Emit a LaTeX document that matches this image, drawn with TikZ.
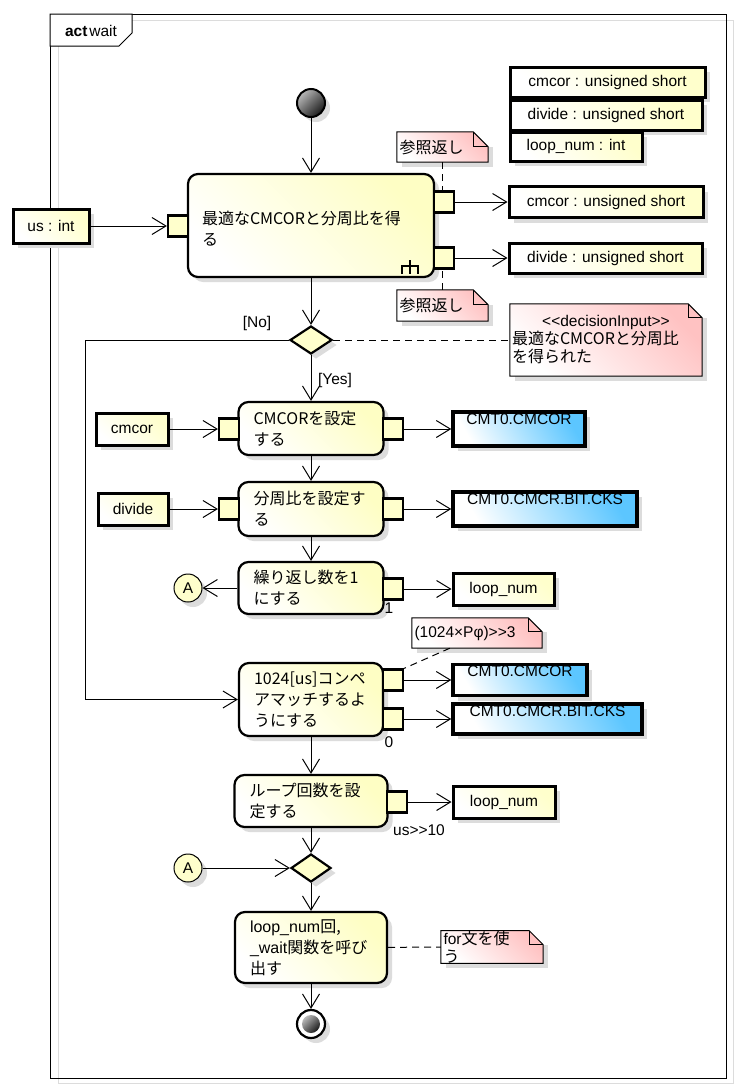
\documentclass[tikz,border=0pt]{standalone}
\usepackage{fontspec}
\newfontfamily\latfont{Liberation Sans}
\newfontfamily\jpfont{Noto Sans CJK JP}
\usetikzlibrary{arrows.meta,shapes.geometric,shadows,backgrounds}
\definecolor{actcream}{HTML}{FEFEC4}
\definecolor{objcream}{HTML}{FFFFCC}
\definecolor{regblue}{HTML}{5CC6FF}
\definecolor{notepink}{HTML}{FFC2C2}
\definecolor{shadowgray}{HTML}{DCDCDC}
\tikzset{
  flowarrow/.style={-{Straight Barb[length=14pt,width=17pt,line width=1pt]}, line width=1pt},
  dashlink/.style={line width=1pt, dash pattern=on 7pt off 5pt},
  castshadow/.style={drop shadow={shadow xshift=5pt, shadow yshift=-5pt, fill=shadowgray, opacity=1}},
  actbox/.style={draw, line width=2.2pt, rounded corners=10pt, top color=actcream, bottom color=white, shading angle=-45, castshadow, align=left, inner sep=0pt, font=\jpfont\fontsize{16}{21}\selectfont},
  pinbox/.style={draw, line width=2.2pt, fill=objcream, minimum width=20pt, minimum height=21pt, inner sep=0pt},
  objbox/.style={draw, line width=3pt, top color=objcream, bottom color=white, shading angle=-45, castshadow, inner sep=0pt, font=\latfont\fontsize{15.5}{18}\selectfont},
  regbox/.style={objbox, line width=3.5pt, top color=regblue, bottom color=white, shading angle=-60, text height=11pt, text depth=21pt},
  notebox/.style={inner sep=0pt, align=left, font=\fontsize{15.5}{18}\selectfont},
  decnode/.style={diamond, draw, line width=2.2pt, fill=objcream, castshadow, inner sep=0pt, minimum width=42pt, minimum height=28pt},
  connnode/.style={circle, draw, line width=1pt, fill=objcream, castshadow, minimum size=28pt, inner sep=0pt, font=\latfont\fontsize{15.5}{18}\selectfont},
  lbl/.style={inner sep=0pt, font=\latfont\fontsize{15.5}{18}\selectfont}
}
\begin{document}
\begin{tikzpicture}[x=1pt, y=-1pt]
  \useasboundingbox (0,0) rectangle (740,1090);
  % frame
  \draw[shadowgray, line width=1pt] (58,20) rectangle (733,1083);
  \draw[line width=1pt] (50,14) rectangle (726,1078);
  \draw[line width=1pt, fill=white] (50,14) -- (132,14) -- (132,33) -- (119,46) -- (50,46) -- cycle;
  \node[lbl] (frametitle) at (91,31) {\textbf{act}\hspace{2pt}wait};

  % variables
  \node[objbox, minimum width=195pt, minimum height=30pt] (var1) at (607.5,82) {cmcor : unsigned short};
  \node[objbox, minimum width=192pt, minimum height=30pt] (var2) at (606,115) {divide : unsigned short};
  \node[objbox, minimum width=132pt, minimum height=29pt] (var3) at (576,146.5) {loop\_num : int};

  % start and first action
  \node[circle, draw, line width=2pt, minimum size=28pt, inner sep=0pt, top color=gray!55, bottom color=black!90, shading angle=45, castshadow] (start) at (311,103) {};
  \node[actbox, minimum width=246pt, minimum height=103pt, text width=218pt, text depth=16pt] (getbox) at (311,225.5) {最適なCMCORと分周比を得\\る};
  \draw[line width=2.4pt] (402,274) -- (402,266) -- (418,266) -- (418,274) (410,260) -- (410,274);
  \node[pinbox] (getin) at (178,226) {};
  \node[pinbox] (getout1) at (444,202) {};
  \node[pinbox] (getout2) at (444,258) {};
  \node[objbox, minimum width=76pt, minimum height=34pt] (usvar) at (51,226) {us : int};
  \node[objbox, minimum width=194pt, minimum height=31pt] (outcmcor) at (606,202) {cmcor : unsigned short};
  \node[objbox, minimum width=193pt, minimum height=30pt] (outdivide) at (605.5,258) {divide : unsigned short};
  \node[notebox, minimum width=91pt, minimum height=30pt, text width=86pt] (ref1) at (442.5,147) {\jpfont\fontsize{16}{18}\selectfont 参照返し};
  \node[notebox, minimum width=91pt, minimum height=31pt, text width=86pt] (ref2) at (442.5,305.5) {\jpfont\fontsize{16}{18}\selectfont 参照返し};

  % decision
  \node[decnode] (chk) at (311,340) {};
  \node[lbl] (nolbl) at (257,323) {[No]};
  \node[lbl] (yeslbl) at (335,380) {[Yes]};
  \coordinate (noturn) at (85,340);
  \node[notebox, minimum width=192pt, minimum height=72pt, text width=188pt] (decnote) at (606,340)
    {\latfont\makebox[188pt]{<\kern0pt<decisionInput>\kern0pt>}\\ \jpfont\fontsize{16}{18}\selectfont 最適なCMCORと分周比\\を得られた};

  % set CMCOR
  \node[actbox, minimum width=145pt, minimum height=53pt, text width=115pt] (setcmcor) at (311,428.5) {CMCORを設定\\する};
  \node[pinbox] (cmcorin) at (229,429) {};
  \node[pinbox] (cmcorout) at (393,429) {};
  \node[objbox, minimum width=72pt, minimum height=32pt] (cmcorvar) at (132,429) {cmcor};
  \node[regbox, minimum width=132pt, minimum height=34pt] (regcmcor1) at (519,429) {CMT0.CMCOR};

  % set divide
  \node[actbox, minimum width=145pt, minimum height=54pt, text width=115pt] (setdiv) at (311,509) {分周比を設定す\\る};
  \node[pinbox] (divin) at (229,509) {};
  \node[pinbox] (divout) at (393,509) {};
  \node[objbox, minimum width=70pt, minimum height=32pt] (divvar) at (133,509) {divide};
  \node[regbox, minimum width=184pt, minimum height=34pt] (regcks1) at (545,509) {CMT0.CMCR.BIT.CKS};

  % loop count 1
  \node[actbox, minimum width=145pt, minimum height=52pt, text width=115pt] (setloop) at (311,588) {繰り返し数を1\\にする};
  \node[pinbox] (loopout) at (393,589) {};
  \node[connnode] (conna1) at (188,588) {A};
  \node[objbox, minimum width=101pt, minimum height=32pt] (loopvar1) at (503.5,589) {loop\_num};
  \node[lbl] (onelbl) at (389,608) {1};

  % compare match
  \node[notebox, minimum width=130pt, minimum height=30pt, text width=125pt] (mulnote) at (477,633) {\latfont (1024×Pφ)>\kern0pt>3};
  \node[actbox, minimum width=144pt, minimum height=73pt, text width=114pt] (cmpbox) at (311,699.5) {1024[us]コンペ\\アマッチするよ\\うにする};
  \node[pinbox] (cmpout1) at (393,680) {};
  \node[pinbox] (cmpout2) at (393,719) {};
  \node[regbox, minimum width=134pt, minimum height=31pt, text depth=18pt] (regcmcor2) at (520,680) {CMT0.CMCOR};
  \node[regbox, minimum width=189pt, minimum height=30pt, text depth=17pt] (regcks2) at (547.5,719) {CMT0.CMCR.BIT.CKS};
  \node[lbl] (zerolbl) at (389,742) {0};

  % loop count
  \node[actbox, minimum width=153pt, minimum height=52pt, text width=123pt] (setcount) at (311,801) {ループ回数を設\\定する};
  \node[pinbox] (countout) at (397,802) {};
  \node[objbox, minimum width=102pt, minimum height=32pt] (loopvar2) at (504,802) {loop\_num};
  \node[lbl] (uslbl) at (419,830) {us>\kern0pt>10};

  % merge and call
  \node[decnode, minimum width=40pt] (merge) at (311,868) {};
  \node[connnode] (conna2) at (188,868) {A};
  \node[actbox, minimum width=152pt, minimum height=71pt, text width=122pt] (callbox) at (311,947.5) {\latfont loop\_num\jpfont 回,\\\latfont \_wait\jpfont 関数を呼び\\出す};
  \node[notebox, minimum width=102pt, minimum height=32pt, text width=97pt] (fornote) at (492,947) {\latfont for\jpfont\fontsize{16}{18}\selectfont 文を使\\う};
  \node[circle, draw, line width=2.2pt, fill=white, minimum size=28pt, inner sep=0pt, castshadow] (final) at (311,1024) {};
  \node[circle, minimum size=18pt, inner sep=0pt, top color=gray!55, bottom color=black!90, shading angle=45] (finaldot) at (final) {};

  % connectors
  \draw[flowarrow] (start) -- (getbox);
  \draw[flowarrow] (usvar) -- (getin);
  \draw[flowarrow] (getout1) -- (outcmcor);
  \draw[flowarrow] (getout2) -- (outdivide);
  \draw[dashlink] (ref1.south) -- (ref1.south |- getout1.north);
  \draw[dashlink] (ref2.north) -- (ref2.north |- getout2.south);
  \draw[flowarrow] (getbox) -- (chk);
  \draw[flowarrow] (chk.west) -- (noturn) |- (cmpbox.west);
  \draw[dashlink] (chk.east) -- (decnote.west);
  \draw[flowarrow] (chk) -- (setcmcor);
  \draw[flowarrow] (cmcorvar) -- (cmcorin);
  \draw[flowarrow] (cmcorout) -- (regcmcor1);
  \draw[flowarrow] (setcmcor) -- (setdiv);
  \draw[flowarrow] (divvar) -- (divin);
  \draw[flowarrow] (divout) -- (regcks1);
  \draw[flowarrow] (setdiv) -- (setloop);
  \draw[flowarrow] (setloop) -- (conna1);
  \draw[flowarrow] (loopout) -- (loopvar1);
  \draw[dashlink] ([xshift=38pt]mulnote.south west) -- (cmpout1.north east);
  \draw[flowarrow] (cmpout1) -- (regcmcor2);
  \draw[flowarrow] (cmpout2) -- (regcks2);
  \draw[flowarrow] (cmpbox) -- (setcount);
  \draw[flowarrow] (countout) -- (loopvar2);
  \draw[flowarrow] (setcount) -- (merge);
  \draw[flowarrow] (conna2) -- (merge);
  \draw[flowarrow] (merge) -- (callbox);
  \draw[dashlink] (callbox) -- (fornote);
  \draw[flowarrow] (callbox) -- (final);

  % note outlines
  \begin{scope}[on background layer]
    \fill[white] (0,0) rectangle (740,1090);
    \foreach \n/\e in {ref1/15,ref2/15,decnote/14,mulnote/14,fornote/14} {
      \fill[shadowgray] ([xshift=5pt,yshift=-5pt]\n.south west) rectangle ([xshift=5pt,yshift=-\e pt]\n.north east);
      \draw[line width=1pt, top color=notepink, bottom color=white, shading angle=-45]
        (\n.south west) -- (\n.north west) -- ([xshift=-\e pt]\n.north east) -- ([yshift=-\e pt]\n.north east) -- (\n.south east) -- cycle;
      \draw[line width=1pt] ([xshift=-\e pt]\n.north east) -- ([xshift=-\e pt,yshift=-\e pt]\n.north east) -- ([yshift=-\e pt]\n.north east);
    }
  \end{scope}
\end{tikzpicture}
\end{document}
